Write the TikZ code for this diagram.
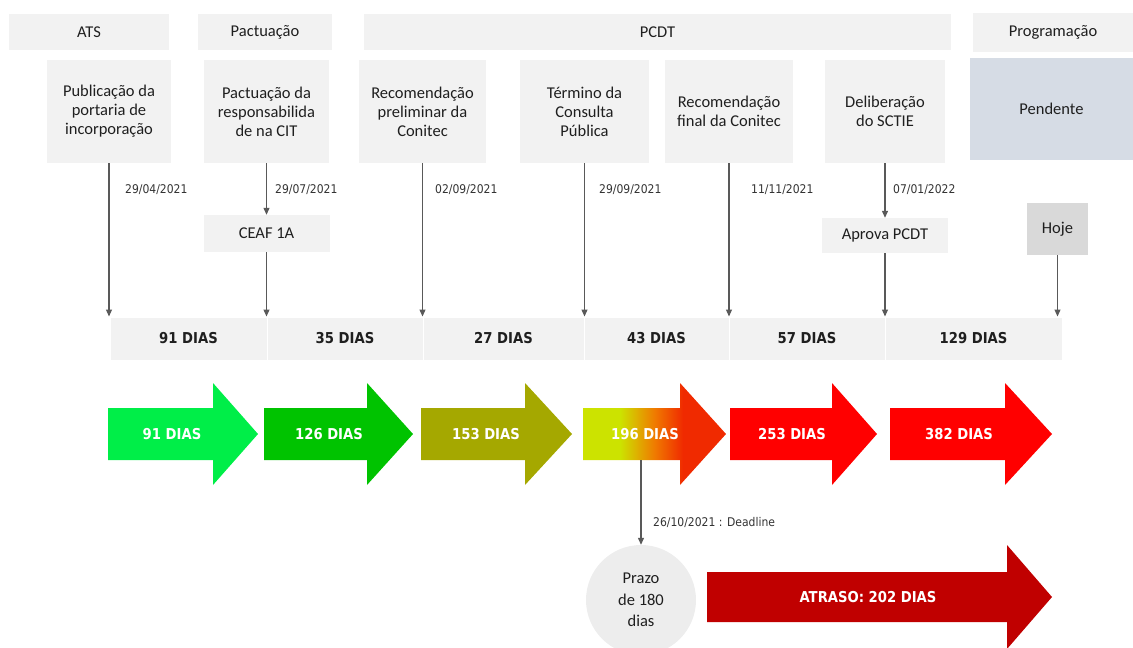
\documentclass[tikz,border=0pt]{standalone}
\usepackage{fontspec}
\setmainfont{Carlito}
\newfontfamily\datef{DejaVu Sans}[FakeStretch=0.9]
\newfontfamily\diasf{DejaVu Sans}[FakeStretch=0.88]
\usetikzlibrary{arrows.meta}
\definecolor{boxg}{HTML}{F2F2F2}
\definecolor{txt}{HTML}{1F1F1F}
\definecolor{datec}{HTML}{333333}
\definecolor{linec}{HTML}{595959}
\definecolor{pendc}{HTML}{D6DCE5}
\definecolor{hojec}{HTML}{D9D9D9}
\definecolor{circc}{HTML}{EDEDED}
\definecolor{aone}{HTML}{00EE48}
\definecolor{atwo}{HTML}{00C300}
\definecolor{athree}{HTML}{A5A800}
\definecolor{a4y}{HTML}{CCE300}
\definecolor{a4o}{HTML}{F07A00}
\definecolor{a4r}{HTML}{F02A00}
\definecolor{ared}{HTML}{FF0000}
\definecolor{atr}{HTML}{C00000}
\pgfdeclarehorizontalshading{afour}{100bp}{color(0bp)=(a4y); color(38bp)=(a4y); color(50bp)=(a4o); color(60bp)=(a4r); color(100bp)=(a4r)}
\newcommand{\bigarr}[4]{\fill[#1] (#2,408) -- (#3,408) -- (#3,383) -- (#4,434) -- (#3,485) -- (#3,460) -- (#2,460) -- cycle;}
\begin{document}
\begin{tikzpicture}[x=1pt,y=-1pt,
  hdr/.style={fill=boxg, inner sep=0, font=\fontsize{16.5}{19}\selectfont, text=txt},
  stepbox/.style={fill=boxg, inner sep=0, align=center, font=\fontsize{16.5}{19}\selectfont, text=txt},
  datelab/.style={anchor=west, font=\datef\fontsize{12}{14}\selectfont, text=datec, inner sep=0},
  diasseg/.style={fill=boxg, draw=white, line width=1pt, inner sep=0, minimum height=43, font=\diasf\bfseries\fontsize{15}{18}\selectfont, text=txt},
  conn/.style={draw=linec, line width=1.2pt, -{Triangle[length=7pt,width=6pt]}},
  arrlab/.style={text=white, font=\diasf\bfseries\fontsize{15}{18}\selectfont, inner sep=0}
]
\useasboundingbox (0,0) rectangle (1133,648);
% header row
\node[hdr, minimum width=160, minimum height=36] (hats) at (89,32) {ATS};
\node[hdr, minimum width=134, minimum height=36] (hpact) at (265,32) {Pactuação};
\node[hdr, minimum width=587, minimum height=36] (hpcdt) at (657.5,32) {PCDT};
\node[hdr, minimum width=160, minimum height=39] (hprog) at (1053,32.5) {Programação};
% step boxes
\node[stepbox, minimum width=124, minimum height=103] (pub) at (109,111.5) {Publicação da\\portaria de\\incorporação};
\node[stepbox, minimum width=125, minimum height=103] (pact) at (266.5,111.5) {Pactuação da\\responsabilida\\de na CIT};
\node[stepbox, minimum width=127, minimum height=103] (recp) at (422.5,111.5) {Recomendação\\preliminar da\\Conitec};
\node[stepbox, minimum width=129, minimum height=103] (term) at (584.5,111.5) {Término da\\Consulta\\Pública};
\node[stepbox, minimum width=128, minimum height=103] (recf) at (729,111.5) {Recomendação\\final da Conitec};
\node[stepbox, minimum width=120, minimum height=103] (delib) at (885,111.5) {Deliberação\\do SCTIE};
\node[stepbox, fill=pendc, minimum width=163, minimum height=102] (pend) at (1051.5,109) {Pendente};
\node[stepbox, minimum width=126, minimum height=37] (ceaf) at (266.5,233.5) {CEAF 1A};
\node[stepbox, minimum width=126, minimum height=35] (aprova) at (885,235.5) {Aprova PCDT};
\node[stepbox, fill=hojec, minimum width=61, minimum height=52] (hoje) at (1057.5,229) {Hoje};
% days bar
\node[diasseg, minimum width=157] (d1) at (188.5,338.5) {91 DIAS};
\node[diasseg, minimum width=156] (d2) at (345,338.5) {35 DIAS};
\node[diasseg, minimum width=161] (d3) at (503.5,338.5) {27 DIAS};
\node[diasseg, minimum width=145] (d4) at (656.5,338.5) {43 DIAS};
\node[diasseg, minimum width=156] (d5) at (807,338.5) {57 DIAS};
\node[diasseg, minimum width=177] (d6) at (973.5,338.5) {129 DIAS};
% connectors
\draw[conn] (pub.south) -- (pub.south |- d1.north);
\draw[conn] (pact.south) -- (pact.south |- ceaf.north);
\draw[conn] (ceaf.south) -- (ceaf.south |- d2.north);
\draw[conn] (recp.south) -- (recp.south |- d3.north);
\draw[conn] (term.south) -- (term.south |- d4.north);
\draw[conn] (recf.south) -- (recf.south |- d5.north);
\draw[conn] (delib.south) -- (delib.south |- aprova.north);
\draw[conn] (aprova.south) -- (aprova.south |- d6.north);
\draw[conn] (hoje.south) -- (hoje.south |- d6.north);
% dates
\node[datelab] (dt1) at (125,190) {29/04/2021};
\node[datelab] (dt2) at (275,190) {29/07/2021};
\node[datelab] (dt3) at (435,190) {02/09/2021};
\node[datelab] (dt4) at (599,190) {29/09/2021};
\node[datelab] (dt5) at (751,190) {11/11/2021};
\node[datelab] (dt6) at (893,190) {07/01/2022};
% big arrows
\bigarr{aone}{108}{213}{258}
\bigarr{atwo}{264}{367}{413}
\bigarr{athree}{421}{525}{572}
\shade[shading=afour] (583,408) -- (680,408) -- (680,383) -- (726,434) -- (680,485) -- (680,460) -- (583,460) -- cycle;
\bigarr{ared}{730}{832}{877}
\bigarr{ared}{890}{1005}{1052}
\node[arrlab] (l1) at (172,434) {91 DIAS};
\node[arrlab] (l2) at (329,434) {126 DIAS};
\node[arrlab] (l3) at (486,434) {153 DIAS};
\node[arrlab] (l4) at (645,434) {196 DIAS};
\node[arrlab] (l5) at (792,434) {253 DIAS};
\node[arrlab] (l6) at (959,434) {382 DIAS};
% deadline
\coordinate (a4bot) at (641,460);
\node[circle, fill=circc, minimum size=110, inner sep=0, align=center, font=\fontsize{16.5}{21.5}\selectfont, text=txt] (prazo) at (641,600) {Prazo\\de 180\\dias};
\draw[conn] (a4bot) -- (prazo.north);
\node[datelab] (dl) at (653,522) {26/10/2021 : Deadline};
\fill[atr] (707,572) -- (1007,572) -- (1007,545) -- (1052,597) -- (1007,649) -- (1007,622) -- (707,622) -- cycle;
\node[arrlab] (latr) at (868,597) {ATRASO: 202 DIAS};
\end{tikzpicture}
\end{document}
